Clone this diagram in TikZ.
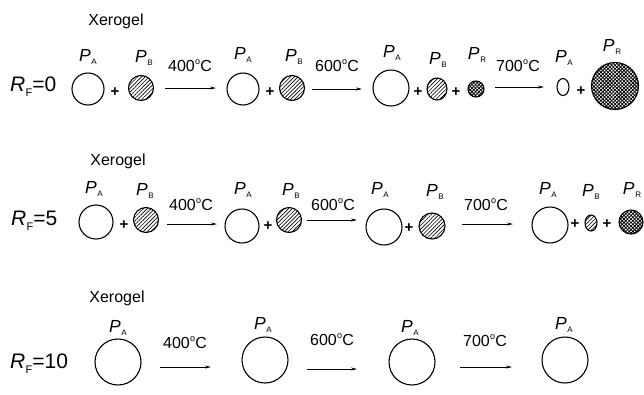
\documentclass[tikz,border=0pt]{standalone}
\usepackage{fontspec}
\setmainfont{Liberation Sans}
\usetikzlibrary{patterns.meta,shapes.geometric,arrows.meta}

% pore label P with a small upright subscript
\newcommand{\Pl}[1]{{\itshape P}\kern0.6pt\raisebox{-3.5pt}{\fontsize{8}{8}\selectfont #1}}
% temperature with a raised small "o" as degree sign
\newcommand{\degC}[1]{#1\kern0.3pt\raisebox{6.8pt}{\fontsize{9}{9}\selectfont o}\kern0.2ptC}
% R_F ratio label
\newcommand{\RF}[1]{{\itshape R}\kern0.3pt\raisebox{-5pt}{\fontsize{11}{11}\selectfont F}#1}

\begin{document}
\begin{tikzpicture}[x=1pt,y=-1pt,
  pore/.style={circle, draw, line width=1.1pt, inner sep=0pt},
  oval/.style={ellipse, draw, line width=1.1pt, inner sep=0pt},
  hatched/.style={pattern={Lines[angle=45,distance=2.7pt,line width=0.65pt]}},
  cross/.style={pattern={Hatch[angle=45,distance=2.5pt,line width=0.8pt]}},
  lab/.style={font=\fontsize{17.5}{17.5}\selectfont, inner sep=0pt},
  temp/.style={font=\fontsize{16}{16}\selectfont, inner sep=0pt},
  plus/.style={font=\fontsize{15}{15}\selectfont\bfseries, inner sep=0pt},
  rf/.style={font=\fontsize{21}{21}\selectfont, anchor=west, inner sep=0pt},
  xg/.style={font=\fontsize{16}{16}\selectfont, inner sep=0pt},
  heat/.style={-{Stealth[length=6pt,width=3pt]}, line width=0.8pt}]
\useasboundingbox (0,0) rectangle (644,394);

% ---------- R_F = 0 ----------
\node[xg] (x1) at (116,21) {Xerogel};
\node[rf] (rf0) at (10,87) {\RF{=0}};
\node[pore, minimum size=32pt] (a11) at (88,89) {};
\node[lab] (la11) at (88,57) {\Pl{A}};
\node[plus] (p11) at (115,92) {+};
\node[pore, hatched, minimum size=25pt] (b11) at (141,88) {};
\node[lab] (lb11) at (144,58) {\Pl{B}};
\coordinate (s11) at (165,88); \coordinate (e11) at (216,88);
\draw[heat] (s11) -- (e11);
\node[temp] (t11) at (190,66) {\degC{400}};
\node[pore, minimum size=32pt] (a12) at (243,89) {};
\node[lab] (la12) at (243,55) {\Pl{A}};
\node[plus] (p12) at (270,92) {+};
\node[pore, hatched, minimum size=25pt] (b12) at (292,88) {};
\node[lab] (lb12) at (294,57) {\Pl{B}};
\coordinate (s12) at (312,89); \coordinate (e12) at (362,89);
\draw[heat] (s12) -- (e12);
\node[temp] (t12) at (337,66) {\degC{600}};
\node[pore, minimum size=36pt] (a13) at (391,88) {};
\node[lab] (la13) at (392,53) {\Pl{A}};
\node[plus] (p13) at (418,92) {+};
\node[oval, hatched, minimum width=20pt, minimum height=22pt] (b13) at (437,89) {};
\node[lab] (lb13) at (438,60) {\Pl{B}};
\node[plus] (p14) at (456,92) {+};
\node[pore, cross, minimum size=16pt] (r13) at (476,89) {};
\node[lab] (lr13) at (477,55) {\Pl{R}};
\coordinate (s13) at (495,87); \coordinate (e13) at (544,87);
\draw[heat] (s13) -- (e13);
\node[temp] (t13) at (518,66) {\degC{700}};
\node[oval, minimum width=12pt, minimum height=17pt] (a14) at (563,87) {};
\node[lab] (la14) at (564,58) {\Pl{A}};
\node[plus] (p15) at (581,91) {+};
\node[pore, cross, minimum size=47pt] (r14) at (615,86) {};
\node[lab] (lr14) at (612,47) {\Pl{R}};

% ---------- R_F = 5 ----------
\node[xg] (x2) at (118,161) {Xerogel};
\node[rf] (rf5) at (11,221) {\RF{=5}};
\node[pore, minimum size=34pt] (a21) at (96,222) {};
\node[lab] (la21) at (94,189) {\Pl{A}};
\node[plus] (p21) at (124,225) {+};
\node[pore, hatched, minimum size=25pt] (b21) at (146,220) {};
\node[lab] (lb21) at (145,191) {\Pl{B}};
\coordinate (s21) at (167,224); \coordinate (e21) at (217,224);
\draw[heat] (s21) -- (e21);
\node[temp] (t21) at (191,205) {\degC{400}};
\node[pore, minimum size=34pt] (a22) at (242,226) {};
\node[lab] (la22) at (243,190) {\Pl{A}};
\node[plus] (p22) at (268,226) {+};
\node[pore, hatched, minimum size=25pt] (b22) at (289,220) {};
\node[lab] (lb22) at (291,191) {\Pl{B}};
\coordinate (s22) at (307,220); \coordinate (e22) at (357,220);
\draw[heat] (s22) -- (e22);
\node[temp] (t22) at (333,205) {\degC{600}};
\node[pore, minimum size=36pt] (a23) at (384,227) {};
\node[lab] (la23) at (380,190) {\Pl{A}};
\node[plus] (p23) at (409,228) {+};
\node[pore, hatched, minimum size=26pt] (b23) at (432,226) {};
\node[lab] (lb23) at (435,192) {\Pl{B}};
\coordinate (s23) at (462,224); \coordinate (e23) at (513,224);
\draw[heat] (s23) -- (e23);
\node[temp] (t23) at (486,205) {\degC{700}};
\node[pore, minimum size=36pt] (a24) at (550,225) {};
\node[lab] (la24) at (548,190) {\Pl{A}};
\node[plus] (p24) at (575,224) {+};
\node[oval, hatched, minimum width=12pt, minimum height=16pt] (b24) at (591,223) {};
\node[lab] (lb24) at (591,192) {\Pl{B}};
\node[plus] (p25) at (607,224) {+};
\node[pore, cross, minimum size=24pt] (r24) at (631,222) {};
\node[lab] (lr24) at (632,190) {\Pl{R}};

% ---------- R_F = 10 ----------
\node[xg] (x3) at (117,298) {Xerogel};
\node[rf] (rf10) at (10,364) {\RF{=10}};
\node[pore, minimum size=46pt] (a31) at (118,362) {};
\node[lab] (la31) at (118,328) {\Pl{A}};
\coordinate (s31) at (160,367); \coordinate (e31) at (211,367);
\draw[heat] (s31) -- (e31);
\node[temp] (t31) at (185,343) {\degC{400}};
\node[pore, minimum size=46pt] (a32) at (265,360) {};
\node[lab] (la32) at (263,325) {\Pl{A}};
\coordinate (s32) at (307,369); \coordinate (e32) at (357,369);
\draw[heat] (s32) -- (e32);
\node[temp] (t32) at (332,340) {\degC{600}};
\node[pore, minimum size=46pt] (a33) at (412,362) {};
\node[lab] (la33) at (410,328) {\Pl{A}};
\coordinate (s33) at (460,367); \coordinate (e33) at (512,367);
\draw[heat] (s33) -- (e33);
\node[temp] (t33) at (485,341) {\degC{700}};
\node[pore, minimum size=46pt] (a34) at (565,360) {};
\node[lab] (la34) at (564,325) {\Pl{A}};
\end{tikzpicture}
\end{document}
